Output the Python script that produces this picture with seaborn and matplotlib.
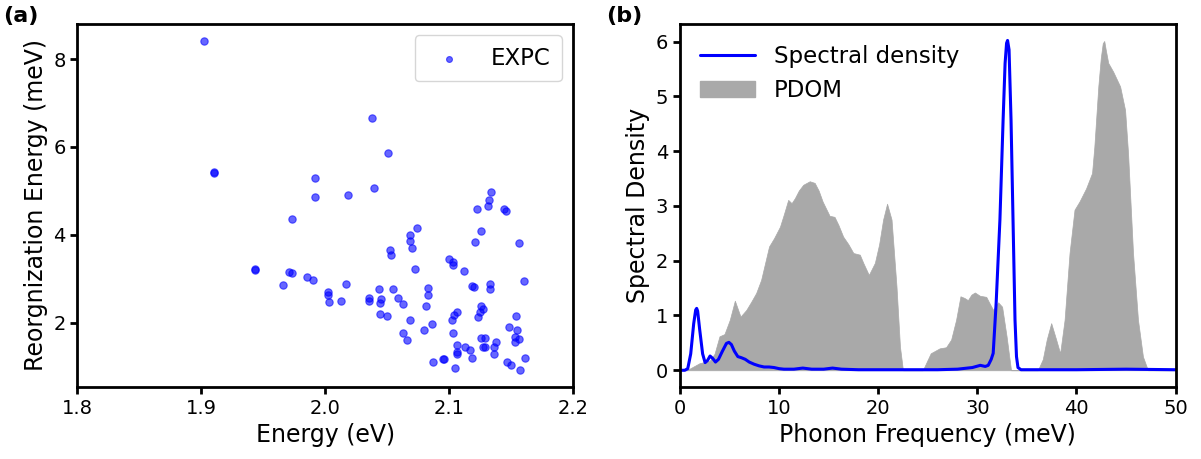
import matplotlib
matplotlib.use("Agg")
import matplotlib.pyplot as plt
from matplotlib.lines import Line2D
from matplotlib.patches import Patch
import seaborn as sns
import pandas as pd

# (a) excitation energy vs reorganization energy
energy_ev = [
    1.902, 1.910, 1.910, 1.992, 1.992, 1.973, 2.051, 2.018, 2.039, 2.038,
    2.074, 2.068, 2.068, 2.070, 2.052, 2.053, 2.072, 1.943, 1.943, 1.971,
    1.973, 1.966, 1.985, 1.990, 2.002, 2.002, 2.003, 2.017, 2.013, 2.035,
    2.035, 2.043, 2.045, 2.044, 2.055, 2.059, 2.063, 2.044, 2.050, 2.068,
    2.063, 2.066, 2.134, 2.132, 2.131, 2.122, 2.144, 2.146, 2.126, 2.121,
    2.156, 2.100, 2.103, 2.103, 2.112, 2.160, 2.118, 2.120, 2.133, 2.133,
    2.083, 2.083, 2.081, 2.126, 2.127, 2.125, 2.123, 2.106, 2.104, 2.102,
    2.086, 2.080, 2.103, 2.154, 2.148, 2.155, 2.153, 2.156, 2.153, 2.126,
    2.129, 2.138, 2.127, 2.129, 2.136, 2.106, 2.113, 2.117, 2.106, 2.106,
    2.136, 2.161, 2.118, 2.095, 2.096, 2.087, 2.147, 2.150, 2.105, 2.157,
]
reorg_mev = [
    8.42, 5.42, 5.40, 5.29, 4.85, 4.35, 5.87, 4.91, 5.06, 6.66,
    4.16, 4.00, 3.85, 3.69, 3.65, 3.53, 3.21, 3.21, 3.19, 3.16,
    3.13, 2.86, 3.03, 2.97, 2.70, 2.62, 2.47, 2.88, 2.49, 2.56,
    2.50, 2.77, 2.53, 2.44, 2.77, 2.56, 2.43, 2.19, 2.15, 2.06,
    1.76, 1.61, 4.97, 4.80, 4.65, 4.59, 4.58, 4.55, 4.09, 3.83,
    3.82, 3.44, 3.38, 3.31, 3.17, 2.95, 2.83, 2.82, 2.88, 2.76,
    2.78, 2.62, 2.37, 2.37, 2.31, 2.23, 2.12, 2.23, 2.17, 2.06,
    1.96, 1.83, 1.77, 2.14, 1.91, 1.83, 1.67, 1.62, 1.55, 1.65,
    1.66, 1.55, 1.45, 1.45, 1.45, 1.49, 1.44, 1.37, 1.34, 1.29,
    1.28, 1.20, 1.20, 1.16, 1.16, 1.11, 1.10, 1.03, 0.97, 0.92,
]

# (b) spectral density of the excitation energy fluctuations
sd_freq = [
    0.0, 0.5, 0.8, 1.1, 1.4, 1.6, 1.7, 1.8, 2.0, 2.3,
    2.55, 2.8, 3.05, 3.3, 3.6, 3.9, 4.3, 4.7, 4.95, 5.2,
    5.5, 5.85, 6.2, 6.6, 7.0, 7.5, 8.0, 8.5, 9.0, 9.5,
    10.0, 10.5, 11.5, 12.4, 13.3, 14.5, 15.4, 16.3, 18.0, 20.0,
    22.0, 24.0, 26.0, 28.0, 29.5, 30.3, 30.8, 31.1, 31.4, 31.6,
    31.9, 32.28, 32.6, 32.8, 32.95, 33.05, 33.2, 33.4, 33.6, 33.8,
    33.95, 34.1, 34.4, 35.0, 40.0, 45.0, 50.0,
]
sd_value = [
    0.00, 0.00, 0.03, 0.30, 0.85, 1.10, 1.13, 1.08, 0.75, 0.30,
    0.14, 0.18, 0.26, 0.22, 0.15, 0.20, 0.35, 0.49, 0.51, 0.47,
    0.35, 0.25, 0.23, 0.20, 0.15, 0.11, 0.08, 0.06, 0.06, 0.05,
    0.03, 0.02, 0.02, 0.04, 0.02, 0.02, 0.04, 0.02, 0.01, 0.01,
    0.01, 0.01, 0.01, 0.02, 0.05, 0.09, 0.07, 0.09, 0.20, 0.31,
    1.23, 2.75, 4.57, 5.60, 5.97, 6.02, 5.85, 4.57, 2.75, 0.92,
    0.25, 0.05, 0.01, 0.01, 0.01, 0.02, 0.01,
]

# phonon density of modes
pdom_freq = [
    0.0, 0.7, 1.2, 2.0, 3.0, 3.5, 4.0, 4.5, 5.04, 5.55,
    6.12, 6.7, 7.2, 7.7, 8.2, 9.0, 9.5, 10.1, 10.5, 10.93,
    11.27, 11.6, 12.0, 12.44, 13.1, 13.6, 14.0, 14.4, 15.1, 15.6,
    16.0, 16.47, 17.0, 17.5, 18.15, 18.5, 19.06, 19.67, 20.1, 20.5,
    20.9, 21.35, 21.85, 22.2, 22.5, 24.5, 25.3, 26.2, 26.85, 27.36,
    27.86, 28.3, 28.7, 29.05, 29.4, 29.75, 30.26, 30.9, 31.3, 31.6,
    32.1, 32.5, 32.95, 33.4, 36.1, 36.6, 37.0, 37.45, 37.95, 38.35,
    38.8, 39.3, 39.8, 40.3, 40.97, 41.57, 41.8, 42.2, 42.45, 42.65,
    42.8, 42.95, 43.2, 43.7, 44.4, 44.9, 45.2, 45.7, 46.2, 46.7,
    47.2, 50.0,
]
pdom_value = [
    0.00, 0.00, 0.05, 0.13, 0.17, 0.30, 0.62, 0.66, 0.92, 1.27,
    0.98, 1.10, 1.25, 1.41, 1.65, 2.26, 2.41, 2.62, 2.85, 3.11,
    3.05, 3.14, 3.28, 3.385, 3.45, 3.42, 3.28, 3.08, 2.82, 2.80,
    2.65, 2.44, 2.30, 2.14, 2.11, 1.96, 1.74, 1.96, 2.30, 2.75,
    3.04, 2.75, 1.53, 0.43, 0.00, 0.00, 0.31, 0.40, 0.42, 0.56,
    0.92, 1.35, 1.32, 1.28, 1.38, 1.42, 1.36, 1.34, 1.20, 1.10,
    1.24, 1.16, 0.62, 0.00, 0.00, 0.20, 0.56, 0.86, 0.56, 0.31,
    0.92, 2.14, 2.93, 3.08, 3.32, 3.60, 4.08, 5.18, 5.70, 5.97,
    6.01, 5.85, 5.61, 5.45, 5.18, 4.75, 3.96, 2.14, 0.92, 0.25,
    0.00, 0.00,
]

sns.set_style("ticks")
plt.rcParams.update({
    "font.family": ["DejaVu Sans"],
    "axes.linewidth": 2.0,
    "xtick.major.width": 2.0,
    "ytick.major.width": 2.0,
    "xtick.major.size": 5,
    "ytick.major.size": 5,
    "xtick.labelsize": 14,
    "ytick.labelsize": 14,
    "axes.labelsize": 17,
    "axes.edgecolor": "black",
    "axes.labelcolor": "black",
    "text.color": "black",
    "xtick.color": "black",
    "ytick.color": "black",
})

fig, (ax1, ax2) = plt.subplots(1, 2, figsize=(12.01, 4.59), dpi=100)
fig.subplots_adjust(left=0.0644, right=0.9789, bottom=0.1575, top=0.9477, wspace=0.215)

# scatter of reorganization energies
scat = pd.DataFrame({"Energy": energy_ev, "Reorg": reorg_mev})
sns.scatterplot(data=scat, x="Energy", y="Reorg", ax=ax1, color="blue",
                alpha=0.6, s=28, edgecolor="blue", linewidth=0.8, label="EXPC")
ax1.set_xlim(1.8, 2.2)
ax1.set_ylim(0.54, 8.8)
ax1.set_xticks([1.8, 1.9, 2.0, 2.1, 2.2])
ax1.set_yticks([2, 4, 6, 8])
ax1.set_xlabel("Energy (eV)")
ax1.set_ylabel("Reorgnization Energy (meV)")
ax1.legend(loc="upper right", fontsize=16.5, markerscale=0.8, handletextpad=0.8,
           borderpad=0.5)

# spectral density and phonon modes
pdom = pd.DataFrame({"freq": pdom_freq, "val": pdom_value})
ax2.fill_between(pdom["freq"], 0, pdom["val"], color="darkgray", linewidth=0.5)
sd = pd.DataFrame({"freq": sd_freq, "val": sd_value})
sns.lineplot(data=sd, x="freq", y="val", ax=ax2, color="blue", linewidth=2.2,
             sort=False)
ax2.set_xlim(0, 50)
ax2.set_ylim(-0.3, 6.32)
ax2.set_xticks([0, 10, 20, 30, 40, 50])
ax2.set_yticks([0, 1, 2, 3, 4, 5, 6])
ax2.set_xlabel("Phonon Frequency (meV)")
ax2.set_ylabel("Spectral Density")
handles = [Line2D([], [], color="blue", linewidth=2.2),
           Patch(facecolor="darkgray", edgecolor="darkgray")]
ax2.legend(handles, ["Spectral density", "PDOM"], loc="upper left", frameon=False,
           fontsize=16.5, handlelength=2.4, labelspacing=0.5)

for ax in (ax1, ax2):
    for sp in ax.spines.values():
        sp.set_visible(True)
        sp.set_linewidth(2.0)

fig.text(0.003, 0.965, "(a)", fontsize=16, fontweight="bold", va="center")
fig.text(0.505, 0.965, "(b)", fontsize=16, fontweight="bold", va="center")

fig.savefig("out.png", dpi=100)
